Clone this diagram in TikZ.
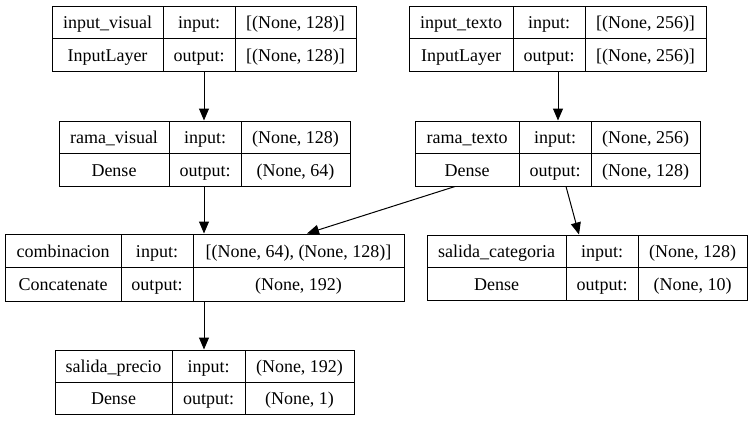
\documentclass[tikz,border=0pt]{standalone}
\usepackage{fontspec}
\setmainfont{Liberation Serif}
\usetikzlibrary{arrows.meta}
\tikzset{
  kframe/.style={draw=black, line width=1bp, inner sep=0pt, fill=none},
  kline/.style={draw=black, line width=1bp},
  ktxt/.style={inner sep=0pt, anchor=base, font=\fontsize{18bp}{20bp}\selectfont},
  karrow/.style={draw=black, line width=1bp, -{Triangle[length=12bp,width=10bp]}},
}
\newcommand\kbox[7]{%
  \node[kframe, minimum width={(#3-#2)*1bp}, minimum height={(#5-#4)*1bp}] (#1) at ({(#2+#3)/2},{(#4+#5)/2}) {};
  \draw[kline] (#2,{(#4+#5)/2}) -- (#3,{(#4+#5)/2});
  \draw[kline] (#6,#4) -- (#6,#5);
  \draw[kline] (#7,#4) -- (#7,#5);
  \gdef\kL{#2}\gdef\kR{#3}\gdef\kT{#4}\gdef\kB{#5}\gdef\kA{#6}\gdef\kC{#7}\gdef\kId{#1}%
}
\newcommand\ktext[4]{%
  \node[ktxt] (\kId-name) at ({(\kL+\kA)/2},{(3*\kT+\kB)/4+6.5}) {#1};
  \node[ktxt] (\kId-type) at ({(\kL+\kA)/2},{(\kT+3*\kB)/4+6.5}) {#2};
  \node[ktxt] (\kId-inl) at ({(\kA+\kC)/2},{(3*\kT+\kB)/4+6.5}) {input:};
  \node[ktxt] (\kId-outl) at ({(\kA+\kC)/2},{(\kT+3*\kB)/4+6.5}) {output:};
  \node[ktxt] (\kId-in) at ({(\kC+\kR)/2},{(3*\kT+\kB)/4+6.5}) {#3};
  \node[ktxt] (\kId-out) at ({(\kC+\kR)/2},{(\kT+3*\kB)/4+6.5}) {#4};
}
\begin{document}
\begin{tikzpicture}[x=1bp,y=-1bp]
\useasboundingbox (0,0) rectangle (752,421);
\fill[white] (0,0) rectangle (752,421);

\kbox{iv}{52}{356}{6}{71}{163}{235}
\ktext{input\_visual}{InputLayer}{[(None, 128)]}{[(None, 128)]}

\kbox{rv}{59}{350}{121}{186}{169}{241}
\ktext{rama\_visual}{Dense}{(None, 128)}{(None, 64)}

\kbox{it}{409}{706}{6}{71}{513}{585}
\ktext{input\_texto}{InputLayer}{[(None, 256)]}{[(None, 256)]}

\kbox{rt}{415}{700}{121}{186}{519}{591}
\ktext{rama\_texto}{Dense}{(None, 256)}{(None, 128)}

\kbox{cb}{5}{404}{234}{301}{121}{193}
\ktext{combinacion}{Concatenate}{[(None, 64), (None, 128)]}{(None, 192)}

\kbox{sp}{55}{354}{350}{414}{172}{245}
\ktext{salida\_precio}{Dense}{(None, 192)}{(None, 1)}

\kbox{sc}{427}{747}{235}{300}{566}{638}
\ktext{salida\_categoria}{Dense}{(None, 128)}{(None, 10)}

\draw[karrow] (iv.south -| 204,0) -- (rv.north -| 204,0);
\draw[karrow] (it.south -| 558,0) -- (rt.north -| 558,0);
\draw[karrow] (rv.south -| 204,0) -- (cb.north -| 204,0);
\draw[karrow] (cb.south -| 204,0) -- (sp.north -| 204,0);
\draw[karrow] (rt.south -| 455,0) -- (cb.north -| 307,0);
\draw[karrow] (rt.south -| 566,0) -- (sc.north -| 579,0);
\end{tikzpicture}
\end{document}
